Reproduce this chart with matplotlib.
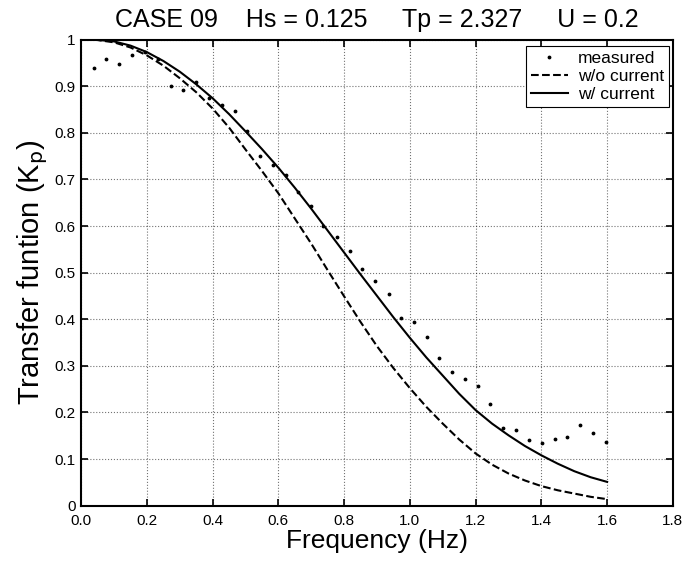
import numpy as np
import matplotlib
matplotlib.use("Agg")
import matplotlib.pyplot as plt

plt.rcParams["font.family"] = ["Liberation Sans", "DejaVu Sans"]

# measured transfer function
freq_meas = [0.039, 0.077, 0.115, 0.155, 0.194, 0.233, 0.272, 0.310, 0.350, 0.390,
             0.427, 0.467, 0.504, 0.544, 0.583, 0.622, 0.659, 0.699, 0.735, 0.777,
             0.817, 0.855, 0.895, 0.935, 0.974, 1.012, 1.051, 1.089, 1.129, 1.168,
             1.206, 1.245, 1.284, 1.323, 1.363, 1.402, 1.441, 1.479, 1.518, 1.557,
             1.597]
kp_meas = [0.940, 0.959, 0.948, 0.966, 0.973, 0.958, 0.901, 0.892, 0.908, 0.875,
           0.860, 0.846, 0.803, 0.750, 0.730, 0.710, 0.672, 0.643, 0.599, 0.576,
           0.546, 0.507, 0.482, 0.454, 0.403, 0.394, 0.362, 0.317, 0.286, 0.271,
           0.256, 0.218, 0.167, 0.163, 0.140, 0.134, 0.142, 0.147, 0.173, 0.155,
           0.136]

# theoretical curves
freq_th = [0.039, 0.1, 0.15, 0.2, 0.25, 0.3, 0.35, 0.4, 0.45, 0.5, 0.55, 0.6, 0.65,
           0.7, 0.75, 0.8, 0.85, 0.9, 0.95, 1.0, 1.05, 1.1, 1.15, 1.2, 1.25, 1.3,
           1.35, 1.4, 1.45, 1.5, 1.55, 1.6]
kp_no_current = [1.0, 0.994, 0.983, 0.966, 0.944, 0.917, 0.887, 0.852, 0.811, 0.764,
                 0.718, 0.670, 0.616, 0.562, 0.505, 0.449, 0.394, 0.342, 0.295, 0.252,
                 0.212, 0.176, 0.142, 0.112, 0.088, 0.069, 0.054, 0.042, 0.033, 0.026,
                 0.019, 0.014]
kp_current = [1.0, 0.996, 0.987, 0.973, 0.954, 0.931, 0.904, 0.874, 0.840, 0.803,
              0.765, 0.725, 0.682, 0.637, 0.590, 0.543, 0.496, 0.450, 0.404, 0.360,
              0.318, 0.279, 0.240, 0.205, 0.176, 0.151, 0.128, 0.108, 0.090, 0.074,
              0.061, 0.051]

fig = plt.figure(figsize=(6.88, 5.65), dpi=100)
ax = fig.add_axes([0.118, 0.105, 0.860, 0.825])

ax.plot(freq_meas, kp_meas, "k.", markersize=3.5, label="measured")
ax.plot(freq_th, kp_no_current, "k--", linewidth=1.5, label="w/o current")
ax.plot(freq_th, kp_current, "k-", linewidth=1.5, label="w/ current")

ax.set_xlim(0, 1.8)
ax.set_ylim(0, 1)
ax.set_xticks(np.arange(0, 1.81, 0.2))
ax.set_xticklabels([f"{v:.1f}" for v in np.arange(0, 1.81, 0.2)])
ax.set_yticks(np.arange(0, 1.01, 0.1))
ax.set_yticklabels(["0"] + [f"{v:.1f}" for v in np.arange(0.1, 0.95, 0.1)] + ["1"])
ax.tick_params(direction="in", top=True, right=True, length=5, width=1.2,
               labelsize=11)
ax.tick_params(axis="x", pad=6)
ax.tick_params(axis="y", pad=4)
ax.grid(True, linestyle=":", color="black", linewidth=0.8, alpha=0.55)
for s in ax.spines.values():
    s.set_linewidth(1.5)

ax.set_xlabel("Frequency (Hz)", fontsize=19, labelpad=1)
ax.set_ylabel("Transfer funtion (K$_\\mathrm{p}$)", fontsize=21, labelpad=3)
ax.set_title("CASE 09    Hs = 0.125     Tp = 2.327     U = 0.2", fontsize=18, pad=9)

leg = ax.legend(loc="upper right", bbox_to_anchor=(0.994, 0.986), borderaxespad=0,
                fontsize=12.5, fancybox=False, framealpha=1, edgecolor="black",
                borderpad=0.3, handlelength=2.1, handletextpad=0.6, labelspacing=0.15)
leg.get_frame().set_linewidth(0.8)

plt.savefig("out.png", dpi=100)
